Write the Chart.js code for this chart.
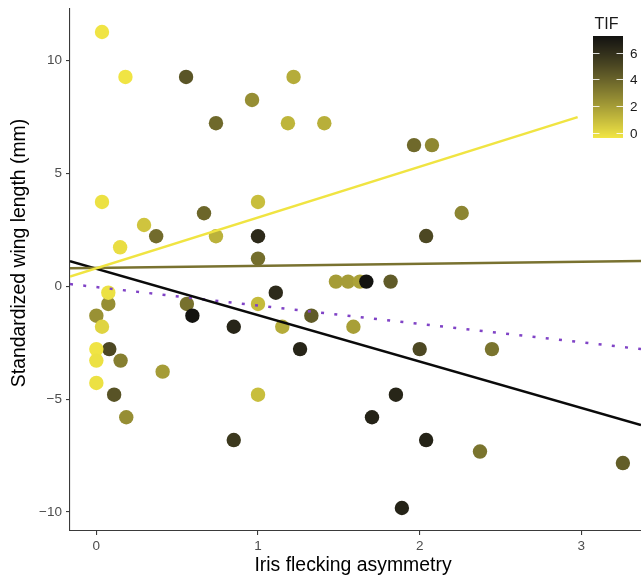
<!DOCTYPE html>
<html>
<head>
<meta charset="utf-8">
<script src="https://cdn.jsdelivr.net/npm/chart.js@4.4.0/dist/chart.umd.min.js"></script>
<style>
  html, body { margin: 0; padding: 0; background: #fff; }
  canvas { display: block; }
</style>
</head>
<body>
<canvas id="grafico" width="641" height="577"></canvas>
<script>
// values
const asimmetria = [0.035, 0.18, 0.555, 1.22, 0.963, 0.74, 1.185, 1.41, 1.965, 2.076,
  2.26, 2.04, 0.035, 1.0, 0.666, 0.295, 0.37, 0.74, 1.0, 0.147,
  1.0, 1.11, 1.482, 1.557, 1.63, 1.67, 1.82, 0.074, 0.074, 0.0,
  0.035, 0.56, 0.594, 0.85, 1.0, 1.15, 1.26, 0.08, 0.0, 0.0,
  0.15, 0.41, 0.0, 0.11, 1.0, 0.185, 0.85, 1.33, 1.59, 2.0,
  2.447, 1.853, 1.705, 2.04, 2.373, 3.257, 1.89];
const ala = [11.27, 9.28, 9.28, 9.28, 8.26, 7.23, 7.23, 7.23, 6.26, 6.26,
  3.25, 2.23, 3.74, 3.74, 3.24, 2.72, 2.22, 2.22, 2.22, 1.73,
  1.23, -0.28, 0.21, 0.21, 0.21, 0.21, 0.21, -0.78, -0.28, -1.30,
  -1.79, -0.78, -1.30, -1.79, -0.78, -1.79, -2.78, -2.78, -2.78, -3.29,
  -3.29, -3.78, -4.28, -4.80, -4.80, -5.80, -6.81, -1.30, -1.79, -2.78,
  -2.78, -4.80, -5.80, -6.81, -7.32, -7.83, -9.82];
const tif = [-0.3, -0.3, 4.5, 1.5, 2.5, 3.8, 1.2, 1.4, 3.8, 2.7,
  2.8, 5.0, -0.2, 0.9, 3.9, 0.7, 3.7, 1.3, 6.2, -0.1,
  3.6, 6.2, 2.0, 2.0, 1.8, 7.2, 4.3, 2.5, -0.2, 2.4,
  0.2, 3.5, 7.2, 6.4, 1.0, 1.5, 6.4, 5.0, -0.3, -0.2,
  3.0, 2.0, -0.2, 4.6, 0.9, 2.5, 5.6, 4.3, 1.9, 5.0,
  3.4, 6.4, 6.5, 6.5, 3.4, 4.2, 6.5];

// fitted lines (ends as drawn)
const lineaGiallaX = [-0.163, 2.977];
const lineaGiallaY = [0.43, 7.5];
const lineaOlivaX = [-0.163, 3.369];
const lineaOlivaY = [0.80, 1.12];
const lineaNeraX = [-0.163, 3.369];
const lineaNeraY = [1.12, -6.14];
const lineaViolaX = [-0.163, 3.369];
const lineaViolaY = [0.10, -2.78];

const xTicks = [0, 1, 2, 3];
const yTicks = [-10, -5, 0, 5, 10];
const tifTicks = [0, 2, 4, 6];
const tifRange = [-0.37, 7.24];

const FONT = "'Liberation Sans', Arial, Helvetica, sans-serif";
Chart.defaults.font.family = FONT;

// colour scale (Lab interpolation, like ggplot)
function srgbToLin(c) { c /= 255; return c <= 0.04045 ? c / 12.92 : Math.pow((c + 0.055) / 1.055, 2.4); }
function linToSrgb(c) {
  const v = c <= 0.0031308 ? 12.92 * c : 1.055 * Math.pow(c, 1 / 2.4) - 0.055;
  return Math.round(Math.max(0, Math.min(1, v)) * 255);
}
function hexToRgb(h) { return [1, 3, 5].map(i => parseInt(h.substr(i, 2), 16)); }
function rgbToLab(rgb) {
  const [R, G, B] = rgb.map(srgbToLin);
  const X = (0.4124 * R + 0.3576 * G + 0.1805 * B) / 0.95047;
  const Y = 0.2126 * R + 0.7152 * G + 0.0722 * B;
  const Z = (0.0193 * R + 0.1192 * G + 0.9505 * B) / 1.08883;
  const f = t => t > 0.008856 ? Math.cbrt(t) : 7.787 * t + 16 / 116;
  const fx = f(X), fy = f(Y), fz = f(Z);
  return [116 * fy - 16, 500 * (fx - fy), 200 * (fy - fz)];
}
function labToRgb(lab) {
  const fy = (lab[0] + 16) / 116, fx = fy + lab[1] / 500, fz = fy - lab[2] / 200;
  const inv = t => t * t * t > 0.008856 ? t * t * t : (t - 16 / 116) / 7.787;
  const X = inv(fx) * 0.95047, Y = inv(fy), Z = inv(fz) * 1.08883;
  return [
    linToSrgb(3.2406 * X - 1.5372 * Y - 0.4986 * Z),
    linToSrgb(-0.9689 * X + 1.8758 * Y + 0.0415 * Z),
    linToSrgb(0.0557 * X - 0.2040 * Y + 1.0570 * Z)
  ];
}
const labBasso = rgbToLab(hexToRgb('#F2E644'));
const labAlto = rgbToLab(hexToRgb('#121210'));
function coloreTif(v) {
  const t = Math.max(0, Math.min(1, (v - tifRange[0]) / (tifRange[1] - tifRange[0])));
  const lab = labBasso.map((c, i) => c + (labAlto[i] - c) * t);
  const rgb = labToRgb(lab);
  return 'rgb(' + rgb.join(',') + ')';
}

function punti(xs, ys) { return xs.map((x, i) => ({ x: x, y: ys[i] })); }

function linea(xs, ys, colore, extra) {
  return Object.assign({
    data: punti(xs, ys),
    showLine: true,
    borderColor: colore,
    borderWidth: 2.5,
    pointRadius: 0,
    fill: false,
    order: 0
  }, extra || {});
}

// legend colour bar + axis titles
const barraColori = {
  id: 'barraColori',
  afterDraw(chart) {
    const ctx = chart.ctx;
    const x0 = 593, x1 = 623, yTop = 36, yBot = 138;
    const pos = v => yBot - (v - tifRange[0]) / (tifRange[1] - tifRange[0]) * (yBot - yTop);
    ctx.save();
    for (let py = yTop; py < yBot; py++) {
      const v = tifRange[0] + (yBot - py - 0.5) / (yBot - yTop) * (tifRange[1] - tifRange[0]);
      ctx.fillStyle = coloreTif(v);
      ctx.fillRect(x0, py, x1 - x0, 1);
    }
    ctx.strokeStyle = 'rgba(255,255,255,0.85)';
    ctx.lineWidth = 1;
    ctx.font = '13.5px ' + FONT;
    ctx.fillStyle = '#1a1a1a';
    ctx.textAlign = 'left';
    ctx.textBaseline = 'middle';
    tifTicks.forEach(v => {
      const y = Math.round(pos(v)) + 0.5;
      ctx.beginPath();
      ctx.moveTo(x0, y); ctx.lineTo(x0 + 6.5, y);
      ctx.moveTo(x1 - 6.5, y); ctx.lineTo(x1, y);
      ctx.stroke();
      ctx.fillText(String(v), 630, y + 0.5);
    });
    ctx.font = '16px ' + FONT;
    ctx.textBaseline = 'alphabetic';
    ctx.fillText('TIF', 594.5, 29);

    ctx.translate(25, 253);
    ctx.rotate(-Math.PI / 2);
    ctx.textAlign = 'center';
    ctx.font = '19.4px ' + FONT;
    ctx.fillStyle = '#000';
    ctx.fillText('Standardized wing length (mm)', 0, 0);
    ctx.restore();

    ctx.save();
    ctx.font = '19.4px ' + FONT;
    ctx.fillStyle = '#000';
    ctx.textAlign = 'center';
    ctx.textBaseline = 'alphabetic';
    ctx.fillText('Iris flecking asymmetry', 353, 571);
    ctx.restore();
  }
};

const ctx = document.getElementById('grafico').getContext('2d');
new Chart(ctx, {
  type: 'scatter',
  data: {
    datasets: [
      {
        data: punti(asimmetria, ala),
        backgroundColor: tif.map(coloreTif),
        borderWidth: 0,
        pointRadius: 7.2,
        pointHoverRadius: 7.2,
        order: 1
      },
      linea(lineaGiallaX, lineaGiallaY, '#F0E442'),
      linea(lineaOlivaX, lineaOlivaY, '#797230'),
      linea(lineaNeraX, lineaNeraY, '#0a0a0a'),
      linea(lineaViolaX, lineaViolaY, '#8043c6', { borderDash: [3, 10.3], borderCapStyle: 'butt' })
    ]
  },
  options: {
    responsive: false,
    animation: false,
    events: [],
    layout: { autoPadding: false, padding: { top: 9, right: 0, left: 0, bottom: 0 } },
    plugins: { legend: { display: false }, tooltip: { enabled: false } },
    scales: {
      x: {
        type: 'linear',
        min: -0.163,
        max: 3.369,
        afterBuildTicks: s => { s.ticks = xTicks.map(v => ({ value: v })); },
        afterFit: s => { s.height = 46; s.paddingLeft = 0; s.paddingRight = 0; },
        grid: { drawOnChartArea: false, drawTicks: true, tickLength: 4, color: '#3a3a3a', lineWidth: 1.1 },
        border: { color: '#3a3a3a', width: 1.1 },
        ticks: { color: '#4d4d4d', font: { size: 13.5 }, padding: 3, maxRotation: 0, callback: v => String(v) }
      },
      y: {
        type: 'linear',
        min: -10.84,
        max: 12.29,
        afterBuildTicks: s => { s.ticks = yTicks.map(v => ({ value: v })); },
        afterFit: s => { s.width = 70; s.paddingTop = 0; s.paddingBottom = 0; },
        grid: { drawOnChartArea: false, drawTicks: true, tickLength: 4, color: '#3a3a3a', lineWidth: 1.1 },
        border: { color: '#3a3a3a', width: 1.1 },
        ticks: { color: '#4d4d4d', font: { size: 13.5 }, padding: 4, callback: v => (v < 0 ? '\u2212' + Math.abs(v) : String(v)) }
      }
    }
  },
  plugins: [barraColori]
});
</script>
</body>
</html>
